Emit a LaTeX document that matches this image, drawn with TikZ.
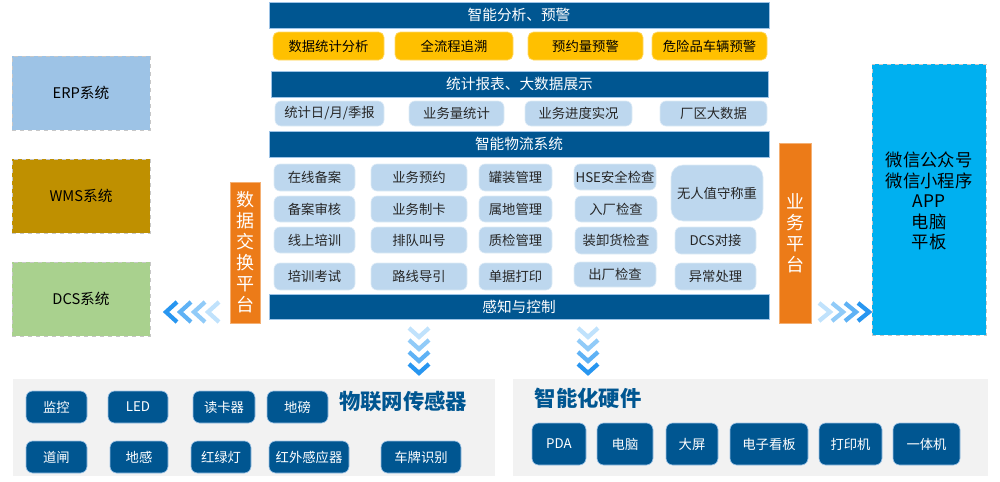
\documentclass[tikz,border=0pt]{standalone}
\usepackage{fontspec}
\setmainfont{Noto Sans CJK SC}
\definecolor{barblue}{RGB}{0,86,145}
\definecolor{baredge}{RGB}{157,195,230}
\definecolor{ybox}{RGB}{255,192,0}
\definecolor{lbox}{RGB}{189,215,238}
\definecolor{orangec}{RGB}{236,123,24}
\definecolor{cyanc}{RGB}{0,176,240}
\definecolor{erpc}{RGB}{157,195,230}
\definecolor{wmsc}{RGB}{191,144,0}
\definecolor{dcsc}{RGB}{169,209,142}
\definecolor{panelc}{RGB}{242,242,242}
\definecolor{chA}{RGB}{40,150,240}
\definecolor{chB}{RGB}{95,178,245}
\definecolor{chC}{RGB}{145,203,248}
\definecolor{chD}{RGB}{192,226,252}
\newcommand\bx[7]{\node[#2,minimum width={(#5-#3)*0.75pt},minimum height={(#6-#4)*0.75pt}] (#1) at ({(#3+#5)/2},{(#4+#6)/2}) {#7};}
\begin{document}
\begin{tikzpicture}[x=0.75pt,y=-0.75pt,
  base/.style={inner sep=0pt,outer sep=0pt},
  bar/.style={base,fill=barblue,draw=baredge,line width=0.6pt,text=white,font=\fontsize{11}{13}\selectfont},
  yb/.style={base,fill=ybox,draw=ybox!60!white,line width=0.5pt,rounded corners=4pt,font=\fontsize{10}{12}\selectfont},
  lb/.style={base,fill=lbox,draw=lbox!50!white,line width=0.5pt,rounded corners=4.5pt,text=black!85,font=\fontsize{10}{12}\selectfont},
  db/.style={base,fill=barblue,draw=baredge,line width=0.5pt,rounded corners=5pt,text=white,font=\fontsize{10}{12}\selectfont},
  sysb/.style={base,draw=black!22,dashed,line width=0.6pt,text=black,font=\fontsize{11}{13}\selectfont},
  orb/.style={base,fill=orangec,draw=orangec!60!white,line width=0.5pt,text=white,align=center,font=\fontsize{13.5}{15.75}\selectfont},
  panel/.style={base,fill=panelc},
  ttl/.style={base,text=barblue,font=\bfseries\fontsize{16}{18}\selectfont},
  chev/.style={line width=3.2pt,line join=miter,line cap=butt}]
\useasboundingbox (0,0) rectangle (1000,482);
% bars
\bx{b1}{bar}{269}{2}{769}{28}{智能分析、预警}
\bx{b2}{bar}{271}{71}{768}{97}{统计报表、大数据展示}
\bx{b3}{bar}{269}{131}{769}{157}{智能物流系统}
\bx{b4}{bar}{269}{294}{769}{319}{感知与控制}
% yellow
\bx{y1}{yb}{273}{32}{384}{60}{数据统计分析}
\bx{y2}{yb}{395}{32}{513}{60}{全流程追溯}
\bx{y3}{yb}{528}{32}{643}{60}{预约量预警}
\bx{y4}{yb}{652}{32}{767}{60}{危险品车辆预警}
% light row
\bx{s1}{lb}{275}{101}{384}{126}{统计日/月/季报}
\bx{s2}{lb}{409}{101}{504}{126}{业务量统计}
\bx{s3}{lb}{525}{101}{632}{126}{业务进度实况}
\bx{s4}{lb}{660}{101}{767}{126}{厂区大数据}
% grid
\bx{g11}{lb}{274}{164}{355}{191}{在线备案}
\bx{g12}{lb}{274}{196}{355}{222}{备案审核}
\bx{g13}{lb}{274}{227}{355}{253}{线上培训}
\bx{g14}{lb}{274}{263}{355}{290}{培训考试}
\bx{g21}{lb}{371}{164}{467}{191}{业务预约}
\bx{g22}{lb}{371}{196}{467}{222}{业务制卡}
\bx{g23}{lb}{371}{227}{467}{253}{排队叫号}
\bx{g24}{lb}{371}{263}{467}{290}{路线导引}
\bx{g31}{lb}{479}{164}{552}{191}{罐装管理}
\bx{g32}{lb}{479}{196}{552}{222}{属地管理}
\bx{g33}{lb}{479}{227}{552}{253}{质检管理}
\bx{g34}{lb}{479}{263}{552}{290}{单据打印}
\bx{g41}{lb}{574}{164}{656}{190}{HSE安全检查}
\bx{g42}{lb}{575}{196}{657}{222}{入厂检查}
\bx{g43}{lb}{575}{227}{657}{254}{装卸货检查}
\bx{g44}{lb}{574}{262}{656}{287}{出厂检查}
\bx{g51}{lb,rounded corners=9pt}{671}{165}{763}{221}{无人值守称重}
\bx{g52}{lb}{675}{227}{756}{254}{DCS对接}
\bx{g53}{lb}{675}{263}{756}{290}{异常处理}
% orange platforms
\bx{o1}{orb}{230}{182}{260}{323}{数\\据\\交\\换\\平\\台}
\bx{o2}{orb}{779}{143}{811}{323}{业\\务\\平\\台}
% right terminal box
\bx{cy}{sysb,fill=cyanc}{872}{64}{986}{335}{}
\node[base,align=center,font=\fontsize{13}{15.4}\selectfont] (cyt) at (929,201) {微信公众号\\微信小程序\\APP\\电脑\\平板};
% left systems
\bx{erp}{sysb,fill=erpc}{12}{56}{150}{130}{ERP系统}
\bx{wms}{sysb,fill=wmsc}{12}{159}{150}{233}{WMS系统}
\bx{dcs}{sysb,fill=dcsc}{12}{262}{150}{336}{DCS系统}
% chevrons
\foreach \x/\c in {166/chA,180/chB,194/chC,208/chD}
  \draw[chev,\c] (\x+11,302) -- (\x,312) -- (\x+11,322);
\foreach \x/\c in {830/chD,843/chC,856/chB,869/chA}
  \draw[chev,\c] (\x-11,303) -- (\x,312) -- (\x-11,321);
\foreach \y/\c in {337/chD,349/chC,361/chB,373/chA}{
  \draw[chev,\c] (409,\y-9) -- (419,\y) -- (429,\y-9);
  \draw[chev,\c] (578,\y-9) -- (588,\y) -- (598,\y-9);}
% bottom panels
\bx{pl}{panel}{13}{379}{495}{476}{}
\bx{pr}{panel}{513}{379}{988}{476}{}
\node[ttl] (tl) at (403,401) {物联网传感器};
\node[ttl] (tr) at (588,398) {智能化硬件};
\bx{d1}{db}{26}{391}{87}{423}{监控}
\bx{d2}{db}{108}{391}{168}{423}{LED}
\bx{d3}{db}{193}{391}{255}{423}{读卡器}
\bx{d4}{db}{267}{391}{328}{423}{地磅}
\bx{d5}{db}{26}{441}{87}{473}{道闸}
\bx{d6}{db}{110}{441}{168}{473}{地感}
\bx{d7}{db}{191}{441}{251}{473}{红绿灯}
\bx{d8}{db}{269}{441}{349}{473}{红外感应器}
\bx{d9}{db}{381}{441}{461}{473}{车牌识别}
\bx{h1}{db}{532}{423}{586}{465}{PDA}
\bx{h2}{db}{597}{423}{653}{465}{电脑}
\bx{h3}{db}{666}{423}{718}{465}{大屏}
\bx{h4}{db}{730}{423}{808}{465}{电子看板}
\bx{h5}{db}{819}{423}{882}{465}{打印机}
\bx{h6}{db}{893}{423}{960}{465}{一体机}
\end{tikzpicture}
\end{document}
